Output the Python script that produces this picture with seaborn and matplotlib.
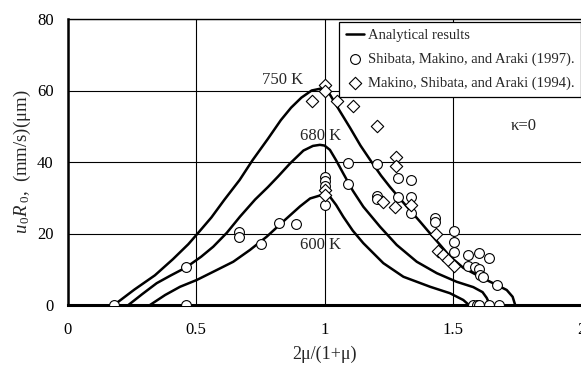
import numpy as np
import pandas as pd
import matplotlib
matplotlib.use("Agg")
import matplotlib.pyplot as plt
import seaborn as sns

# Analytical curves u0*R0 versus 2mu/(1+mu) for three ambient temperatures
x_750 = [0.181, 0.26, 0.34, 0.41, 0.47, 0.51, 0.56, 0.61, 0.67, 0.72, 0.78, 0.83, 0.87,
         0.91, 0.95, 0.99, 1.02, 1.06, 1.10, 1.14, 1.185, 1.22, 1.255, 1.30, 1.333,
         1.372, 1.411, 1.45, 1.488, 1.54, 1.605, 1.67, 1.709, 1.732, 1.742]
y_750 = [0.0, 4.3, 8.3, 12.8, 17.0, 20.3, 24.5, 29.4, 35.0, 40.5, 46.5, 51.7, 55.2,
         58.0, 60.0, 60.6, 59.0, 54.2, 49.5, 44.6, 39.8, 36.2, 33.0, 29.2, 26.5,
         23.3, 20.0, 16.8, 13.6, 10.4, 7.9, 5.6, 4.2, 2.3, 0.0]

x_680 = [0.237, 0.29, 0.347, 0.40, 0.461, 0.52, 0.567, 0.62, 0.671, 0.73, 0.78, 0.82,
         0.866, 0.918, 0.955, 0.982, 1.0, 1.021, 1.045, 1.073, 1.11, 1.151, 1.216,
         1.281, 1.359, 1.437, 1.514, 1.579, 1.615, 1.631, 1.644]
y_680 = [0.0, 3.0, 6.1, 8.2, 10.5, 13.5, 16.3, 20.2, 24.7, 29.5, 33.0, 36.0,
         39.6, 43.2, 44.5, 44.8, 44.6, 43.4, 40.5, 36.8, 32.0, 27.5, 21.9,
         16.8, 12.1, 8.9, 6.5, 5.0, 3.6, 2.0, 0.0]

x_600 = [0.321, 0.38, 0.438, 0.503, 0.57, 0.645, 0.71, 0.775, 0.84, 0.905, 0.944,
         0.99, 1.021, 1.045, 1.073, 1.11, 1.151, 1.229, 1.307, 1.411, 1.488, 1.54, 1.562]
y_600 = [0.0, 2.8, 5.1, 7.0, 9.4, 12.1, 15.4, 19.1, 23.4, 27.6, 29.8,
         30.8, 30.3, 28.0, 24.7, 20.8, 17.3, 11.7, 7.9, 5.1, 3.3, 1.4, 0.0]

# Shibata, Makino, and Araki (1997)
x_shibata = [0.181, 0.461, 0.461, 0.666, 0.666, 0.752, 0.824, 0.889,
             1.002, 1.002, 1.002, 1.002, 1.093, 1.093, 1.203, 1.287, 1.335,
             1.203, 1.203, 1.287, 1.335, 1.335, 1.430, 1.430, 1.504, 1.504, 1.504,
             1.560, 1.602, 1.641, 1.560, 1.586, 1.602, 1.605, 1.618, 1.670,
             1.579, 1.592, 1.602, 1.641, 1.680]
y_shibata = [0.0, 0.0, 10.6, 20.5, 19.1, 17.0, 23.0, 22.7,
             35.8, 34.6, 33.4, 28.0, 39.8, 33.8, 39.4, 35.6, 35.0,
             30.5, 29.6, 30.1, 30.3, 25.6, 24.4, 23.2, 20.8, 17.7, 14.8,
             14.0, 14.5, 13.1, 10.9, 10.5, 10.0, 8.4, 7.8, 5.6,
             0.0, 0.0, 0.0, 0.0, 0.0]

# Makino, Shibata, and Araki (1994)
x_makino = [0.950, 1.002, 1.002, 1.050, 1.111, 1.203, 1.277, 1.277, 1.002, 1.002,
            1.229, 1.274, 1.335, 1.432, 1.443, 1.462, 1.482, 1.504]
y_makino = [57.1, 61.5, 59.9, 57.2, 55.8, 50.1, 41.5, 38.9, 32.3, 30.8,
            28.9, 27.5, 28.0, 19.8, 15.0, 13.9, 12.6, 10.9]

curve_labels = ["750 K", "680 K", "600 K"]
x_ticks = [0, 0.5, 1, 1.5, 2]
x_tick_labels = ["0", "0.5", "1", "1.5", "2"]
y_ticks = [0, 20, 40, 60, 80]

sns.set_theme(style="white")
plt.rcParams["font.family"] = ["Liberation Serif", "DejaVu Serif"]
plt.rcParams["mathtext.fontset"] = "custom"
plt.rcParams["mathtext.rm"] = "Liberation Serif"
plt.rcParams["mathtext.it"] = "Liberation Serif:italic"

fig = plt.figure(figsize=(5.81, 3.67), dpi=100)
ax = fig.add_axes([67.5 / 581, 1 - 305 / 367, 514 / 581, 286 / 367])

ax.set_xlim(0, 2)
ax.set_ylim(0, 80)
ax.set_xticks(x_ticks)
ax.set_xticklabels(x_tick_labels)
ax.set_yticks(y_ticks)
ax.grid(True, color="black", linewidth=0.8)
ax.set_axisbelow(True)

for i, (xs, ys) in enumerate([(x_750, y_750), (x_680, y_680), (x_600, y_600)]):
    df = pd.DataFrame({"x": xs, "y": ys})
    sns.lineplot(data=df, x="x", y="y", ax=ax, color="black", linewidth=1.8,
                 estimator=None, sort=False, zorder=3,
                 label="Analytical results" if i == 0 else None)

sns.scatterplot(x=x_shibata, y=y_shibata, ax=ax, marker="o", s=50,
                facecolor="white", edgecolor="black", linewidth=0.8, zorder=4,
                label="Shibata, Makino, and Araki (1997).")
sns.scatterplot(x=x_makino, y=y_makino, ax=ax, marker="D", s=40,
                facecolor="white", edgecolor="black", linewidth=0.8, zorder=5,
                label="Makino, Shibata, and Araki (1994).")

ax.text(0.839, 62.8, curve_labels[0], ha="center", va="center", fontsize=12)
ax.text(0.986, 47.3, curve_labels[1], ha="center", va="center", fontsize=12)
ax.text(0.986, 16.8, curve_labels[2], ha="center", va="center", fontsize=12)
ax.text(1.774, 50.1, "κ=0", ha="center", va="center", fontsize=12)

ax.set_xlabel("2μ/(1+μ)", fontsize=13, labelpad=6)
ax.set_ylabel(r"$u_{\,0}R_{\,0}$,  (mm/s)(μm)", fontsize=13.5, labelpad=3)

ax.tick_params(axis="both", direction="in", length=4, width=0.8, color="black",
               labelsize=12, labelcolor="black")
ax.tick_params(axis="x", pad=12)
ax.tick_params(axis="y", pad=10)

for side in ["top", "right"]:
    ax.spines[side].set_color("black")
    ax.spines[side].set_linewidth(1.0)
ax.spines["left"].set_color("black")
ax.spines["left"].set_linewidth(1.8)
ax.spines["bottom"].set_color("black")
ax.spines["bottom"].set_linewidth(2.2)

leg = ax.legend(loc="upper left", bbox_to_anchor=(0.529, 0.988), fontsize=10.5,
                frameon=True, fancybox=False, edgecolor="black", framealpha=1,
                handlelength=1.25, handletextpad=0.25, borderpad=0.45,
                labelspacing=0.72, borderaxespad=0)
leg.get_frame().set_linewidth(0.9)
leg.set_zorder(6)

fig.savefig("out.png", dpi=100)
